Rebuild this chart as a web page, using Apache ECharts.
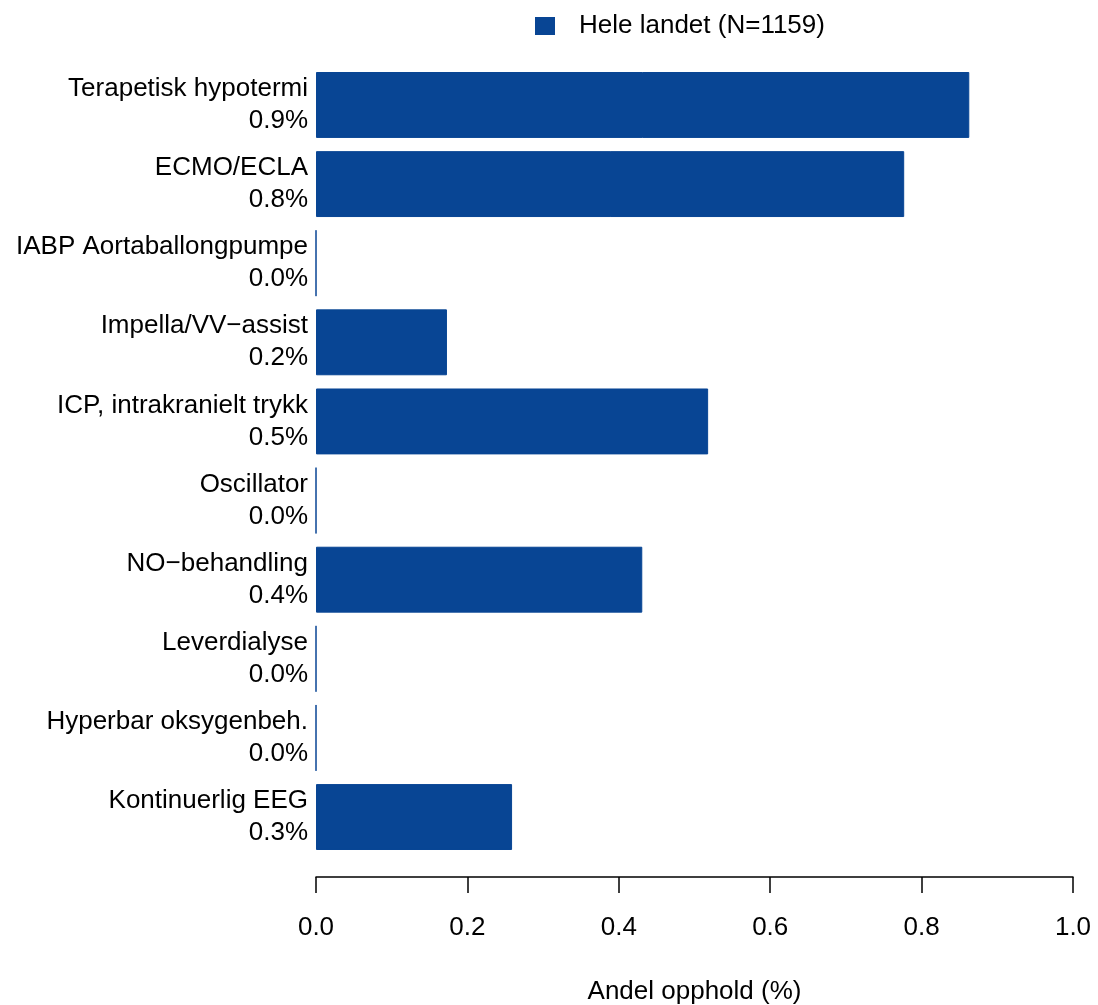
<!DOCTYPE html>
<html>
<head>
<meta charset="utf-8">
<script src="https://cdn.jsdelivr.net/npm/echarts@6/dist/echarts.min.js"></script>
<style>
html,body{margin:0;padding:0;background:#fff;}
#chart{width:1098px;height:1005px;}
</style>
</head>
<body>
<div id="chart"></div>
<script>
const categories = ['Terapetisk hypotermi','ECMO/ECLA','IABP Aortaballongpumpe','Impella/VV\u2212assist','ICP, intrakranielt trykk','Oscillator','NO\u2212behandling','Leverdialyse','Hyperbar oksygenbeh.','Kontinuerlig EEG'];
const values = [0.863, 0.777, 0, 0.173, 0.518, 0, 0.431, 0, 0, 0.259];
const xTicks = [0, 0.2, 0.4, 0.6, 0.8, 1.0];
const seriesName = 'Hele landet (N=1159)';
const xName = 'Andel opphold (%)';

const FONT = 'Liberation Sans, Arial, Helvetica, sans-serif';
const FS = 26;
const BLUE = '#084594';

const chart = echarts.init(document.getElementById('chart'), null, {renderer:'canvas'});
chart.setOption({
  animation: false,
  textStyle: {fontFamily: FONT, color: '#000'},
  legend: {
    data: [seriesName],
    top: 13,
    left: 535,
    padding: 0,
    itemWidth: 18,
    itemHeight: 16,
    icon: 'rect',
    textStyle: {fontFamily: FONT, fontSize: FS, color: '#000', padding: [0,0,0,20]}
  },
  grid: {left: 316, right: 25, top: 65.4, bottom: 148.4, containLabel: false, outerBoundsMode: 'none'},
  xAxis: {
    type: 'value',
    min: 0, max: 1, interval: 0.2,
    offset: 20.5,
    position: 'bottom',
    splitLine: {show: false},
    axisLine: {show: true, lineStyle: {color: '#000', width: 1.5}},
    axisTick: {show: true, length: 16, lineStyle: {color: '#000', width: 1.5}},
    axisLabel: {fontFamily: FONT, fontSize: FS, color: '#000', margin: 38,
      formatter: v => xTicks.find(t => Math.abs(t - v) < 1e-9).toFixed(1)},
    name: xName,
    nameLocation: 'middle',
    nameGap: 102,
    nameTextStyle: {fontFamily: FONT, fontSize: FS, color: '#000'}
  },
  yAxis: {
    type: 'category',
    data: categories,
    inverse: true,
    axisLine: {show: false},
    axisTick: {show: false},
    axisLabel: {
      fontFamily: FONT, fontSize: FS, color: '#000', margin: 8, lineHeight: 32, align: 'right',
      formatter: (v, i) => v + '\n' + values[i].toFixed(1) + '%'
    }
  },
  series: [{
    name: seriesName,
    type: 'bar',
    data: values,
    barWidth: '83.3%',
    itemStyle: {color: BLUE, borderColor: BLUE, borderWidth: 1}
  }]
});
</script>
</body>
</html>
